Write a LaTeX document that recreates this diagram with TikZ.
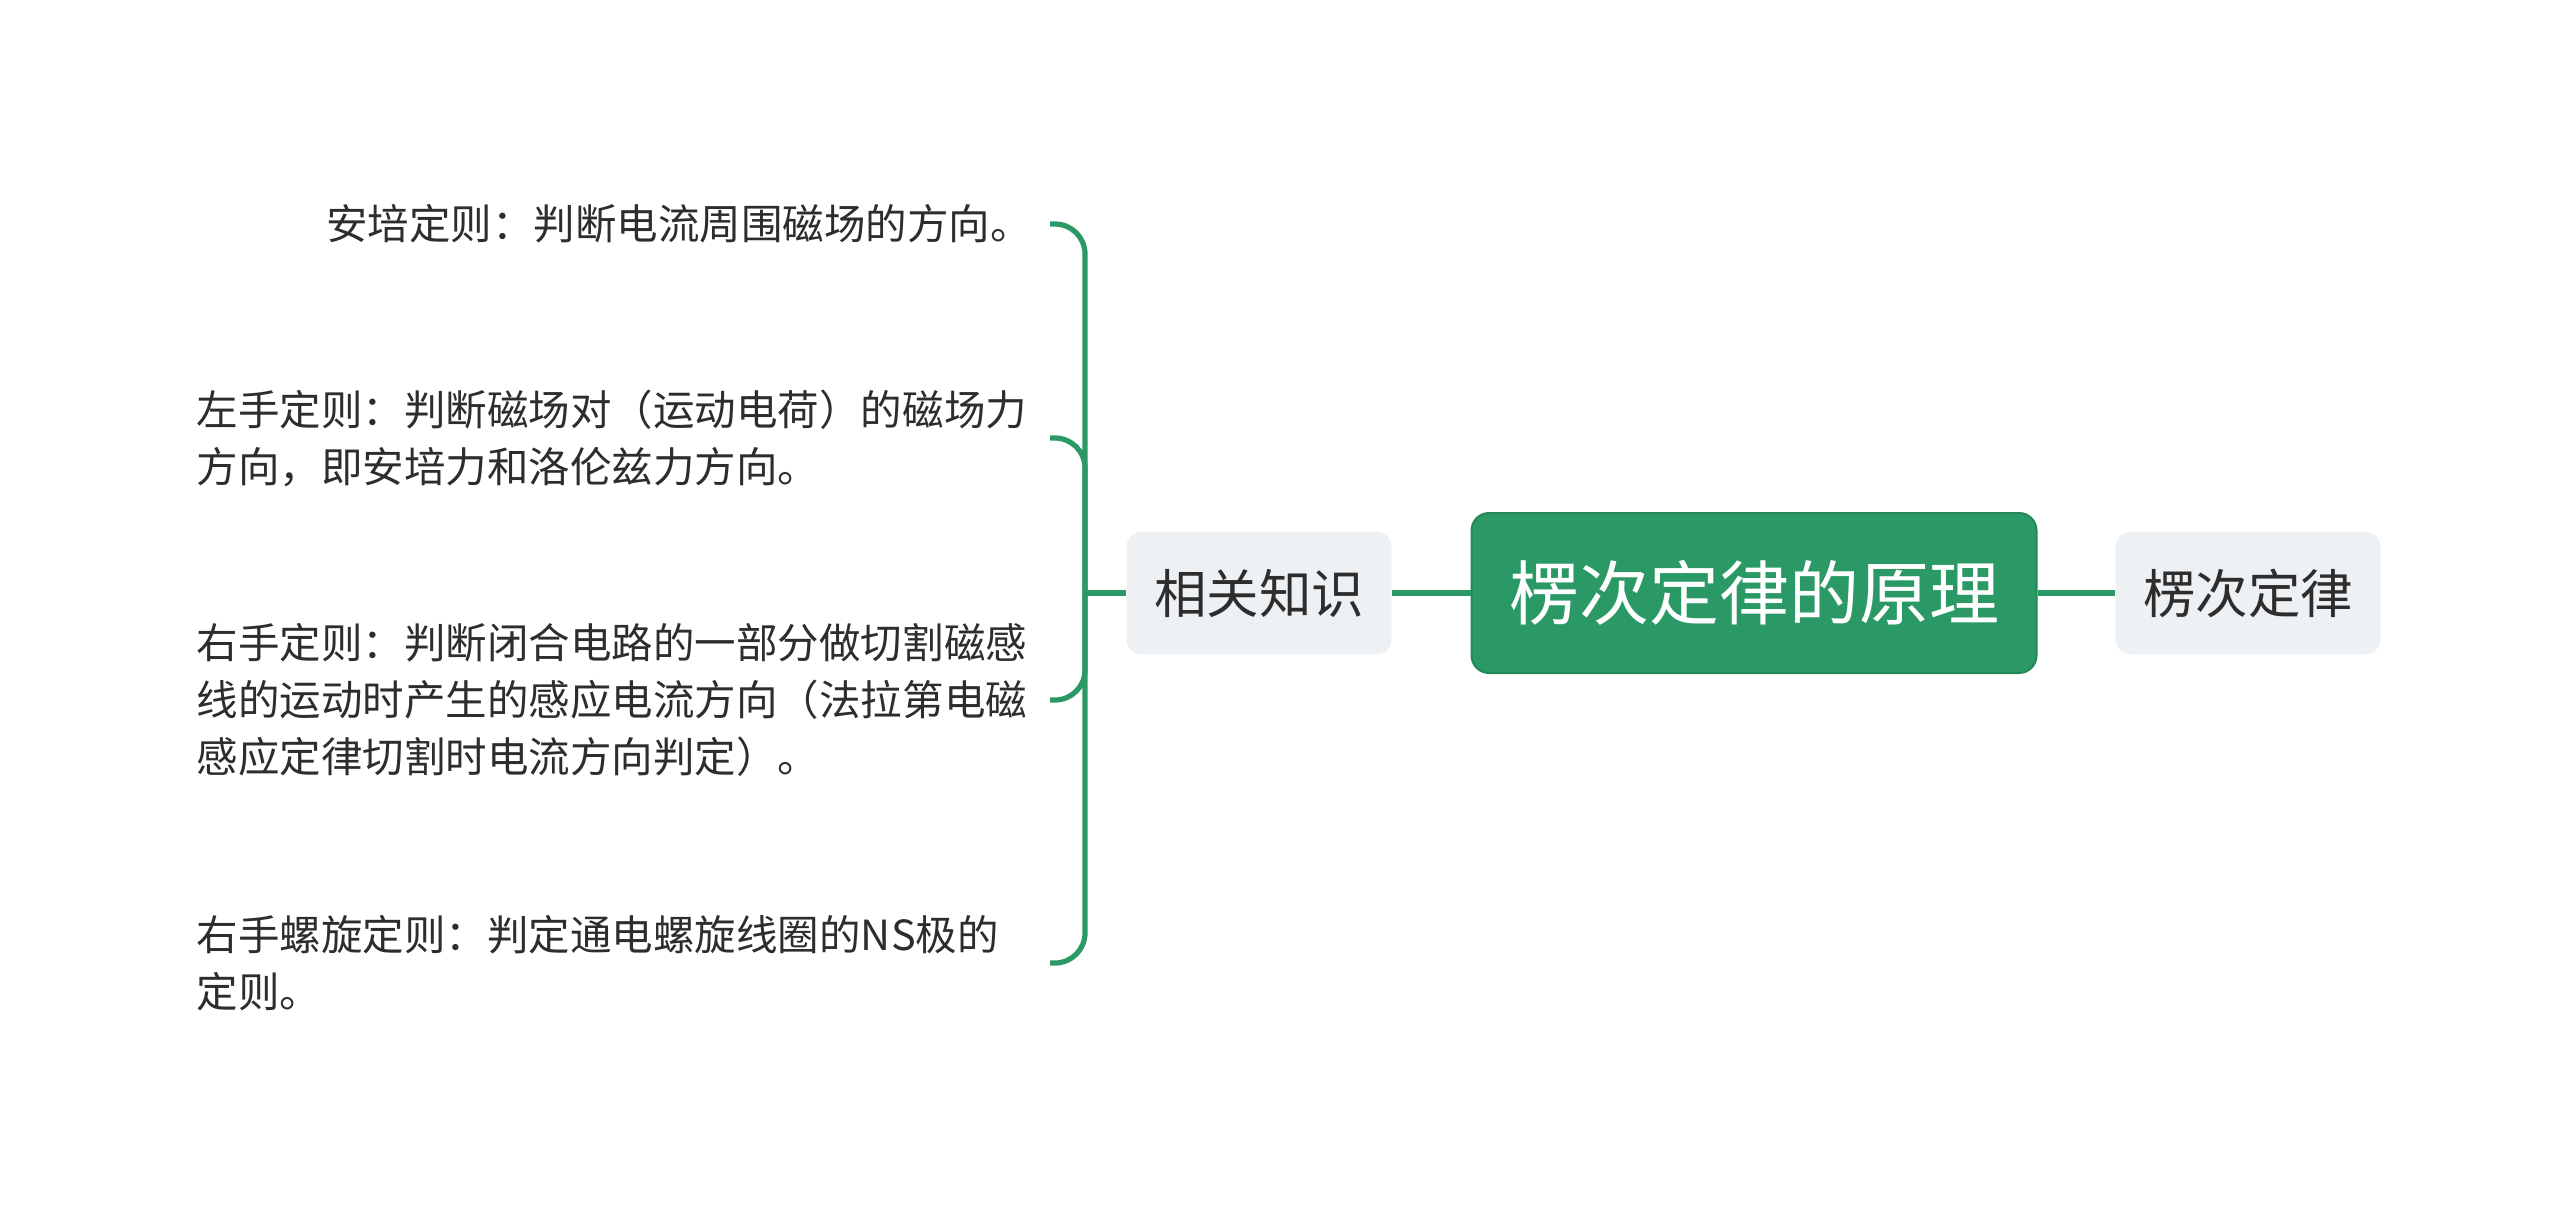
\documentclass[tikz,border=0pt]{standalone}
\usepackage{fontspec}
\setmainfont{Noto Sans CJK SC}
\usetikzlibrary{positioning}

\definecolor{mapgreen}{RGB}{43,153,102}
\definecolor{mapedge}{RGB}{36,135,88}
\definecolor{mapgray}{RGB}{238,241,244}
\definecolor{maptext}{RGB}{45,45,45}

\begin{document}
\begin{tikzpicture}[x=0.4pt,y=-0.4pt,
    rootbox/.style={draw=mapedge, line width=0.8pt, fill=mapgreen, text=white, rounded corners=7pt,
        minimum width=226pt, minimum height=64pt, font=\fontsize{28}{34}\selectfont},
    topicbox/.style={fill=mapgray, text=maptext, rounded corners=6pt,
        minimum width=106pt, minimum height=49pt, font=\fontsize{21}{26}\selectfont},
    leafbox/.style={anchor=east, inner xsep=7pt, inner ysep=0pt, text width=334pt, align=left,
        text=maptext, font=\fontsize{16.6}{22.8}\selectfont},
    link/.style={mapgreen, line width=2.1pt}]

    \useasboundingbox (0,0) rectangle (2560,1215);

    % Draw the main nodes
    \node[rootbox] (root) at (1754,593) {楞次定律的原理};
    \node[topicbox] (know) at (1259,593) {相关知识};
    \node[topicbox] (law) at (2248,593) {楞次定律};

    % Draw the leaves
    \node[leafbox,align=right] (ampere) at (1050,224) {安培定则：判断电流周围磁场的方向。};
    \node[leafbox] (lefthand) at (1050,438) {左手定则：判断磁场对（运动电荷）的磁场力\\方向，即安培力和洛伦兹力方向。};
    \node[leafbox] (righthand) at (1050,700) {右手定则：判断闭合电路的一部分做切割磁感\\线的运动时产生的感应电流方向（法拉第电磁\\感应定律切割时电流方向判定）。};
    \node[leafbox] (screw) at (1050,963) {右手螺旋定则：判定通电螺旋线圈的NS极的\\定则。};

    % Draw the connectors
    \draw[link] (root) -- (know);
    \draw[link] (root) -- (law);
    \draw[link] (know.west) -- ++(-41,0) coordinate (hub);
    \foreach \leaf in {ampere,lefthand,righthand,screw}
        \draw[link,rounded corners=12pt] (hub) |- (\leaf.east);

\end{tikzpicture}
\end{document}
